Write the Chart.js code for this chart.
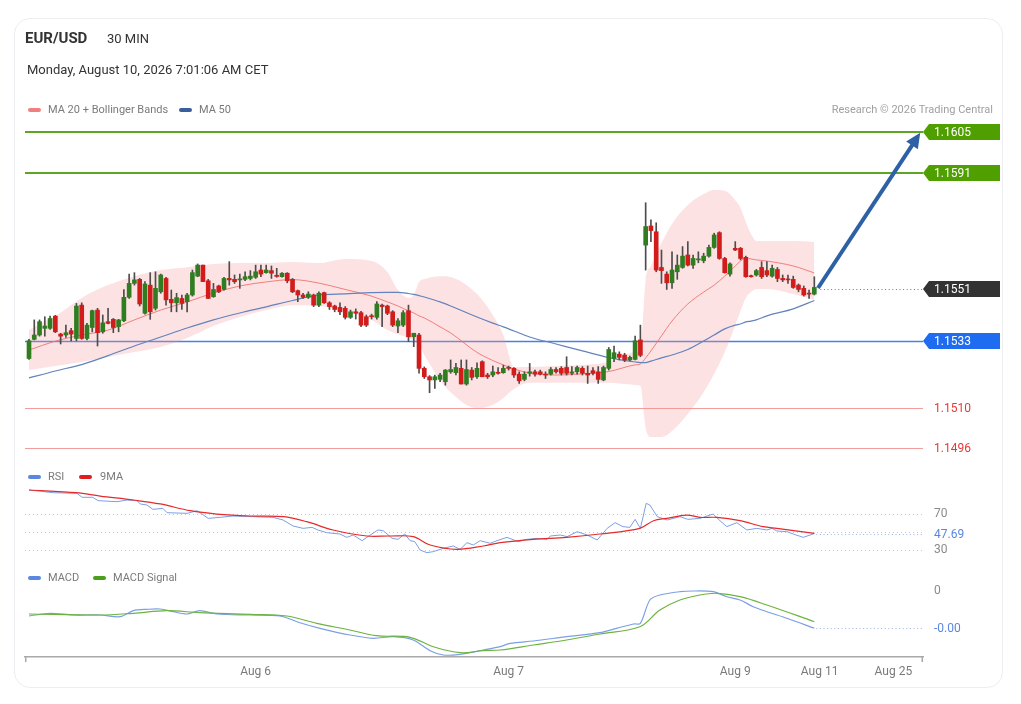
<!DOCTYPE html>
<html>
<head>
<meta charset="utf-8">
<script src="https://cdn.jsdelivr.net/npm/chart.js@4.4.1/dist/chart.umd.min.js"></script>
<style>
html,body{margin:0;padding:0;background:#fff;}
body{width:1021px;height:704px;position:relative;overflow:hidden;font-family:Roboto,"Liberation Sans",Arial,sans-serif;}
.card{position:absolute;left:14px;top:18px;width:989px;height:670px;border:1px solid #eceef1;border-radius:16px;box-sizing:border-box;}
.t{position:absolute;white-space:nowrap;line-height:1;}
.sw{position:absolute;width:13px;height:4px;border-radius:2px;display:block;}
canvas{position:absolute;left:0;top:0;}
</style>
</head>
<body>
<div class="card"></div>
<canvas id="chart" width="1021" height="704"></canvas>
<div class="t" style="left:25px;top:31px;font-size:15px;font-weight:700;color:#333">EUR/USD</div>
<div class="t" style="left:107px;top:32px;font-size:13px;color:#333">30 MIN</div>
<div class="t" style="left:27px;top:63px;font-size:13px;color:#333">Monday, August 10, 2026 7:01:06 AM CET</div>
<span class="sw" style="left:28px;top:108px;background:#f08080"></span>
<div class="t" style="left:48px;top:104px;font-size:11px;color:#7a7a7a">MA 20 + Bollinger Bands</div>
<span class="sw" style="left:179px;top:108px;background:#3b5f9e"></span>
<div class="t" style="left:199px;top:104px;font-size:11px;color:#7a7a7a">MA 50</div>
<div class="t" style="right:28px;top:104px;font-size:11px;color:#a0a0a0">Research © 2026 Trading Central</div>
<span class="sw" style="left:28px;top:475px;background:#5b87e0"></span>
<div class="t" style="left:48px;top:471px;font-size:11px;color:#7a7a7a">RSI</div>
<span class="sw" style="left:79px;top:475px;background:#e01e1e"></span>
<div class="t" style="left:100px;top:471px;font-size:11px;color:#7a7a7a">9MA</div>
<span class="sw" style="left:28px;top:576px;background:#5b87e0"></span>
<div class="t" style="left:48px;top:572px;font-size:11px;color:#7a7a7a">MACD</div>
<span class="sw" style="left:93px;top:576px;background:#4c9f1c"></span>
<div class="t" style="left:113px;top:572px;font-size:11px;color:#7a7a7a">MACD Signal</div>
<script>
// ---------- DATA ----------
const candleOpen = [
1.15269,1.15335,1.15350,1.15373,1.15373,1.15415,1.15353,1.15350,1.15365,1.15338,
1.15453,1.15338,1.15376,1.15436,1.15361,1.15396,1.15404,1.15379,1.15399,1.15480,
1.15528,1.15542,1.15425,1.15522,1.15442,1.15499,1.15545,1.15473,1.15461,1.15476,
1.15465,1.15488,1.15553,1.15591,1.15537,1.15482,1.15519,1.15507,1.15545,1.15542,
1.15540,1.15542,1.15545,1.15549,1.15574,1.15565,1.15572,1.15556,1.15551,1.15563,
1.15542,1.15503,1.15488,1.15480,1.15488,1.15453,1.15496,1.15461,1.15450,1.15445,
1.15442,1.15411,1.15430,1.15427,1.15413,1.15415,1.15411,1.15453,1.15450,1.15430,
1.15381,1.15384,1.15434,1.15344,1.15350,1.15235,1.15206,1.15195,1.15197,1.15189,
1.15223,1.15220,1.15235,1.15181,1.15229,1.15206,1.15258,1.15212,1.15212,1.15221,
1.15220,1.15238,1.15235,1.15215,1.15197,1.15218,1.15223,1.15223,1.15215,1.15215,
1.15231,1.15235,1.15238,1.15218,1.15223,1.15235,1.15218,1.15227,1.15223,1.15195,
1.15235,1.15269,1.15284,1.15281,1.15264,1.15266,1.15333,1.15660,1.15726,1.15706,
1.15583,1.15560,1.15530,1.15568,1.15583,1.15626,1.15591,1.15609,1.15606,1.15622,
1.15652,1.15703,1.15614,1.15560,1.15649,1.15649,1.15618,1.15553,1.15557,1.15583,
1.15572,1.15553,1.15576,1.15545,1.15542,1.15542,1.15522,1.15511,1.15494,1.15491];
const candleHigh = [
1.15335,1.15402,1.15402,1.15413,1.15415,1.15418,1.15356,1.15384,1.15373,1.15459,
1.15461,1.15390,1.15436,1.15442,1.15419,1.15442,1.15407,1.15404,1.15507,1.15560,
1.15565,1.15545,1.15534,1.15565,1.15568,1.15560,1.15549,1.15505,1.15494,1.15488,
1.15494,1.15574,1.15595,1.15591,1.15542,1.15528,1.15522,1.15549,1.15603,1.15557,
1.15560,1.15568,1.15572,1.15591,1.15591,1.15591,1.15588,1.15580,1.15565,1.15565,
1.15545,1.15505,1.15494,1.15499,1.15491,1.15499,1.15498,1.15465,1.15453,1.15461,
1.15448,1.15436,1.15440,1.15432,1.15419,1.15422,1.15465,1.15457,1.15453,1.15434,
1.15407,1.15434,1.15453,1.15356,1.15356,1.15240,1.15210,1.15212,1.15218,1.15231,
1.15264,1.15252,1.15264,1.15264,1.15238,1.15254,1.15261,1.15218,1.15243,1.15238,
1.15246,1.15243,1.15238,1.15223,1.15223,1.15252,1.15229,1.15229,1.15223,1.15238,
1.15238,1.15241,1.15275,1.15241,1.15243,1.15241,1.15243,1.15238,1.15241,1.15243,
1.15307,1.15312,1.15292,1.15287,1.15277,1.15346,1.15384,1.15806,1.15747,1.15737,
1.15643,1.15568,1.15637,1.15626,1.15655,1.15672,1.15626,1.15637,1.15632,1.15660,
1.15701,1.15706,1.15618,1.15599,1.15672,1.15652,1.15622,1.15557,1.15576,1.15603,
1.15603,1.15591,1.15583,1.15557,1.15557,1.15553,1.15526,1.15519,1.15505,1.15551];
const candleLow = [
1.15266,1.15333,1.15346,1.15346,1.15369,1.15358,1.15319,1.15342,1.15330,1.15330,
1.15335,1.15333,1.15361,1.15312,1.15356,1.15388,1.15358,1.15361,1.15396,1.15476,
1.15522,1.15450,1.15422,1.15404,1.15436,1.15494,1.15453,1.15430,1.15430,1.15438,
1.15430,1.15484,1.15551,1.15534,1.15476,1.15480,1.15496,1.15505,1.15522,1.15528,
1.15511,1.15537,1.15540,1.15545,1.15551,1.15563,1.15545,1.15549,1.15549,1.15530,
1.15496,1.15465,1.15476,1.15476,1.15448,1.15448,1.15459,1.15438,1.15430,1.15420,
1.15405,1.15407,1.15405,1.15379,1.15379,1.15405,1.15405,1.15379,1.15420,1.15379,
1.15358,1.15379,1.15327,1.15310,1.15218,1.15200,1.15151,1.15166,1.15189,1.15177,
1.15218,1.15212,1.15181,1.15177,1.15195,1.15200,1.15206,1.15200,1.15206,1.15215,
1.15218,1.15229,1.15204,1.15183,1.15192,1.15208,1.15208,1.15212,1.15200,1.15212,
1.15218,1.15212,1.15212,1.15212,1.15215,1.15212,1.15183,1.15212,1.15183,1.15192,
1.15229,1.15258,1.15264,1.15258,1.15261,1.15264,1.15275,1.15574,1.15672,1.15568,
1.15528,1.15507,1.15511,1.15542,1.15580,1.15588,1.15580,1.15599,1.15599,1.15618,
1.15649,1.15611,1.15563,1.15553,1.15641,1.15609,1.15549,1.15549,1.15553,1.15545,
1.15551,1.15549,1.15534,1.15534,1.15528,1.15511,1.15499,1.15484,1.15476,1.15488];
const candleClose = [
1.15330,1.15350,1.15396,1.15381,1.15407,1.15361,1.15346,1.15358,1.15353,1.15450,
1.15338,1.15384,1.15434,1.15358,1.15392,1.15390,1.15376,1.15402,1.15480,1.15528,
1.15540,1.15457,1.15526,1.15430,1.15511,1.15557,1.15471,1.15461,1.15479,1.15459,
1.15488,1.15565,1.15591,1.15534,1.15476,1.15507,1.15499,1.15545,1.15540,1.15534,
1.15542,1.15551,1.15553,1.15568,1.15560,1.15574,1.15563,1.15552,1.15563,1.15537,
1.15499,1.15488,1.15480,1.15491,1.15453,1.15494,1.15461,1.15448,1.15438,1.15430,
1.15411,1.15430,1.15425,1.15384,1.15384,1.15413,1.15457,1.15448,1.15425,1.15384,
1.15399,1.15427,1.15344,1.15356,1.15235,1.15206,1.15195,1.15206,1.15212,1.15229,
1.15231,1.15238,1.15181,1.15231,1.15204,1.15235,1.15206,1.15206,1.15223,1.15218,
1.15235,1.15235,1.15212,1.15192,1.15215,1.15223,1.15215,1.15215,1.15212,1.15231,
1.15223,1.15218,1.15218,1.15223,1.15238,1.15218,1.15212,1.15218,1.15197,1.15238,
1.15300,1.15289,1.15273,1.15264,1.15273,1.15330,1.15280,1.15724,1.15710,1.15574,
1.15572,1.15530,1.15574,1.15591,1.15622,1.15591,1.15614,1.15611,1.15622,1.15652,
1.15695,1.15614,1.15565,1.15595,1.15643,1.15614,1.15551,1.15551,1.15572,1.15551,
1.15557,1.15580,1.15545,1.15540,1.15540,1.15514,1.15507,1.15488,1.15491,1.15514];

const bandIdx = [0,5,10,15,20,25,30,35,40,45,50,55,60,65,68,70,72,73,74,75,78,80,85,88,90,92,95,100,105,110,115,116,117,118,120,122,125,128,130,132,134,135,136,137,138,140,145,149];
const bbUpper = [1.15367,1.15416,1.15478,1.15522,1.15553,1.15574,1.15584,1.15595,1.15598,1.15598,
1.15602,1.15598,1.15612,1.15605,1.15567,1.15505,1.15478,1.15488,1.15533,1.15543,
1.15553,1.15550,1.15491,1.15419,1.15350,1.15240,1.15240,1.15243,1.15247,1.15257,
1.15291,1.15298,1.15540,1.15588,1.15667,1.15733,1.15798,1.15836,1.15850,1.15847,
1.15815,1.15788,1.15740,1.15698,1.15674,1.15674,1.15674,1.15671];
const bbLower = [1.15229,1.15243,1.15257,1.15274,1.15291,1.15309,1.15340,1.15381,1.15412,1.15436,
1.15453,1.15450,1.15433,1.15402,1.15367,1.15353,1.15340,1.15330,1.15316,1.15281,
1.15195,1.15153,1.15098,1.15109,1.15133,1.15164,1.15185,1.15185,1.15185,1.15185,
1.15178,1.15174,1.15029,1.14998,1.14998,1.15019,1.15078,1.15153,1.15216,1.15291,
1.15384,1.15433,1.15478,1.15498,1.15509,1.15509,1.15491,1.15471];
const ma20 = [1.15298,1.15329,1.15350,1.15367,1.15402,1.15436,1.15464,1.15495,1.15519,1.15533,
1.15541,1.15529,1.15507,1.15484,1.15464,1.15450,1.15433,1.15426,1.15416,1.15409,
1.15378,1.15357,1.15290,1.15262,1.15247,1.15233,1.15219,1.15212,1.15216,1.15224,
1.15247,1.15250,1.15271,1.15295,1.15347,1.15398,1.15457,1.15498,1.15522,1.15553,
1.15588,1.15605,1.15616,1.15612,1.15609,1.15605,1.15588,1.15564];
const ma50 = [1.15202,1.15226,1.15248,1.15279,1.15312,1.15343,1.15374,1.15402,1.15426,1.15447,
1.15469,1.15488,1.15492,1.15496,1.15497,1.15497,1.15493,1.15490,1.15486,1.15481,
1.15464,1.15450,1.15412,1.15391,1.15378,1.15364,1.15343,1.15319,1.15295,1.15272,
1.15257,1.15255,1.15255,1.15260,1.15271,1.15281,1.15300,1.15329,1.15350,1.15371,
1.15384,1.15388,1.15395,1.15398,1.15402,1.15416,1.15440,1.15469];

const rsiIdx = [0,4.6,9.1,10.1,12.1,13.1,16.7,18.6,20.5,21.1,22.4,23.5,25.4,26.2,30,31.9,34,36.2,38.7,42.5,46.3,48.2,50.1,52,53.7,54.8,56.5,59,60.3,61.5,63.2,64.3,66.2,67.2,68.9,70,71.3,72.3,73.2,74.2,75.5,76.7,78.6,80.5,81.8,83.1,84.3,85.6,87.5,88.8,90.7,92.8,94.5,96.4,98.3,98.9,100.8,102.1,104,105.9,107.8,109.7,111.2,112.7,114,115,116,117.1,117.8,119.2,121.1,123.5,125,127.3,129.8,131.1,132.4,134.3,136.2,138.1,140,141,141.9,143.8,145,146.9,149];
const rsiVal = [96.1,93.1,92.4,88,88,84.3,83.1,85,84.3,80.6,79.4,74.6,75.7,70.9,70.2,73.1,64.6,65.7,67.2,66.5,65.7,62.8,56.1,53.5,54.6,51.7,48.7,47.2,43.5,46.1,39.8,44.3,51.7,50.9,42.4,41.3,47.2,39.8,38.7,29.4,26.5,27.6,31.3,33.9,30.2,37.6,35,39.8,36.9,39.8,43.5,38.7,41.3,42.4,41.3,45,46.1,44.3,49.8,46.1,40.6,53.5,59.8,55.4,54.6,63.5,53.5,81.3,79.4,66.5,62.8,66.5,63.5,64.6,69.4,62,55.4,59.8,51.7,53.5,51.7,53.5,50.6,49.8,47.2,43.5,47.69];
const ma9Idx = [0,9,13.5,19.8,24.9,30.6,35.6,41.9,48.3,52.7,57.7,64.1,68.5,72.9,76.1,81.2,86.2,89.4,95.7,102,108.3,115.9,118.5,121,124.8,127.3,130.5,134.9,139.3,141.9,149];
const ma9Val = [96.1,93.1,89.4,85,80.6,73.1,69.4,67.2,66.5,60.9,51.7,45,45,44.3,35,30.2,33.9,37.6,41.3,43.5,47.2,53.5,62,64.6,68.3,65.7,65.7,62,55.4,53.5,48];
const rsiGrid = [70,50,30];
const rsiTicks = [70,30];

const macdIdx = [0,4,8.4,13.5,17.3,19.8,22.4,24.9,27.4,29.9,32.4,35.6,42,47.6,51.4,55.2,60.9,65.3,69.1,72.9,76.1,78.6,81.8,86.2,89.4,91.3,95.7,102,108.3,111.5,114.7,116,117.8,119.7,123.5,126,129.8,132.4,134.9,137.4,140,143.8,149];
const macdVal = [-0.00026,-0.000233,-0.00025,-0.00025,-0.000267,-0.000207,-0.000193,-0.00019,-0.000217,-0.00024,-0.000207,-0.00024,-0.00025,-0.00026,-0.000327,-0.000383,-0.00045,-0.000483,-0.000467,-0.0005,-0.000607,-0.00065,-0.000643,-0.0006,-0.000567,-0.000533,-0.00051,-0.000467,-0.000427,-0.000383,-0.00034,-0.000333,-0.0001,-0.00005,-0.000017,-0.00001,-0.000017,-0.000067,-0.0001,-0.000167,-0.000217,-0.000283,-0.000383];
const sigIdx = [0,13.5,19.8,26.1,32.4,42,48.9,54.6,60.9,65.9,72.3,76.7,81.8,86.2,89.4,95.7,102,108.3,115.9,119.7,123.5,127.3,130.5,134.9,140,149];
const sigVal = [-0.00024,-0.00025,-0.000233,-0.000207,-0.000227,-0.000243,-0.00026,-0.000333,-0.0004,-0.000457,-0.000473,-0.000567,-0.000627,-0.000607,-0.0006,-0.00055,-0.0005,-0.00044,-0.000367,-0.0002,-0.0001,-0.00005,-0.000033,-0.000067,-0.00015,-0.000317];
const macdTicks = [0];

const levelVals = [1.1605, 1.1591, 1.1551, 1.1533, 1.1510, 1.1496];
const tickIdx = [43, 91, 134, 150, 164];
const tickLabels = ['Aug 6', 'Aug 7', 'Aug 9', 'Aug 11', 'Aug 25'];
const arrowFrom = [149.7, 1.15512];
const arrowTo = [169.1, 1.16047];

// ---------- STYLE ----------
const FONT = 'Roboto, "Liberation Sans", Arial, sans-serif';
const GREEN = '#2f7d20', RED = '#d21b1b';
const levelStyle = [
  {line:'#5ea524', width:2, tag:'#4f9f00'},
  {line:'#5ea524', width:2, tag:'#4f9f00'},
  {line:'dots', tag:'#333333'},
  {line:'#4a80e6', width:1.5, tag:'#1f6cf0'},
  {line:'#f29c9c', width:1, text:'#e53935'},
  {line:'#f29c9c', width:1, text:'#e53935'}
];
const snap = (y, w) => (Math.round(w) % 2 === 1 || w < 2) ? Math.round(y) + 0.5 : Math.round(y);

const zip = (xs, ys) => xs.map((x, k) => ({x: x, y: ys[k]}));
const idxs = candleOpen.map((_, i) => i);

const overlay = {
  id: 'overlay',
  beforeDatasetsDraw(chart) {
    const {ctx, chartArea: a} = chart;
    const yP = chart.scales.yP, yR = chart.scales.yR;
    ctx.save();
    ctx.lineWidth = 1;
    ctx.strokeStyle = '#c6c6c6';
    ctx.setLineDash([1, 3]);
    rsiGrid.forEach(v => {
      const y = snap(yR.getPixelForValue(v), 1);
      ctx.beginPath(); ctx.moveTo(a.left, y); ctx.lineTo(a.right, y); ctx.stroke();
    });
    ctx.setLineDash([]);
    levelVals.forEach((v, k) => {
      const st = levelStyle[k];
      if (st.line === 'dots') return;
      const y = snap(yP.getPixelForValue(v), st.width);
      ctx.strokeStyle = st.line; ctx.lineWidth = st.width;
      ctx.beginPath(); ctx.moveTo(a.left, y); ctx.lineTo(a.right, y); ctx.stroke();
    });
    ctx.restore();
  },
  afterDatasetsDraw(chart) {
    const {ctx, chartArea: a} = chart;
    const xs = chart.scales.x, yP = chart.scales.yP, yR = chart.scales.yR, yM = chart.scales.yM;
    const lastI = candleClose.length - 1;
    ctx.save();
    ctx.lineWidth = 1;
    ctx.setLineDash([1, 2.6]);
    ctx.strokeStyle = '#777';
    let y = snap(yP.getPixelForValue(levelVals[2]), 1);
    ctx.beginPath(); ctx.moveTo(xs.getPixelForValue(lastI) + 6, y); ctx.lineTo(a.right, y); ctx.stroke();
    ctx.strokeStyle = '#9db3e4';
    const rl = rsiIdx.length - 1;
    y = snap(yR.getPixelForValue(rsiVal[rl]), 1);
    ctx.beginPath(); ctx.moveTo(xs.getPixelForValue(rsiIdx[rl]) + 2, y); ctx.lineTo(a.right, y); ctx.stroke();
    const ml = macdIdx.length - 1;
    y = snap(yM.getPixelForValue(macdVal[ml]), 1);
    ctx.beginPath(); ctx.moveTo(xs.getPixelForValue(macdIdx[ml]) + 2, y); ctx.lineTo(a.right, y); ctx.stroke();
    ctx.setLineDash([]);

    // arrow
    const x1 = xs.getPixelForValue(arrowFrom[0]), y1 = yP.getPixelForValue(arrowFrom[1]);
    const x2 = xs.getPixelForValue(arrowTo[0]), y2 = yP.getPixelForValue(arrowTo[1]);
    const ang = Math.atan2(y2 - y1, x2 - x1), hl = 15, hw = 7;
    const bx = x2 - hl * Math.cos(ang), by = y2 - hl * Math.sin(ang);
    ctx.strokeStyle = '#2e60a6'; ctx.fillStyle = '#2e60a6'; ctx.lineWidth = 4;
    ctx.beginPath(); ctx.moveTo(x1, y1); ctx.lineTo(bx + Math.cos(ang), by + Math.sin(ang)); ctx.stroke();
    ctx.beginPath(); ctx.moveTo(x2, y2);
    ctx.lineTo(bx + hw * Math.sin(ang), by - hw * Math.cos(ang));
    ctx.lineTo(bx - hw * Math.sin(ang), by + hw * Math.cos(ang));
    ctx.closePath(); ctx.fill();

    // level tags / labels
    ctx.font = '12px ' + FONT;
    ctx.textBaseline = 'middle';
    ctx.textAlign = 'left';
    const tx = a.right + 11;
    levelVals.forEach((v, k) => {
      const st = levelStyle[k];
      const yy = Math.round(yP.getPixelForValue(v));
      if (st.tag) {
        ctx.fillStyle = st.tag;
        ctx.beginPath();
        ctx.moveTo(a.right, yy);
        ctx.lineTo(a.right + 6, yy - 8);
        ctx.lineTo(a.right + 77, yy - 8);
        ctx.lineTo(a.right + 77, yy + 8);
        ctx.lineTo(a.right + 6, yy + 8);
        ctx.closePath(); ctx.fill();
        ctx.fillStyle = '#ffffff';
      } else {
        ctx.fillStyle = st.text;
      }
      ctx.fillText(v.toFixed(4), tx, yy + 0.5);
    });
    ctx.fillStyle = '#8a8a8a';
    rsiTicks.forEach(v => ctx.fillText(String(v), tx, yR.getPixelForValue(v) + 0.5));
    ctx.fillStyle = '#5b87e0';
    ctx.fillText(rsiVal[rl].toFixed(2), tx, yR.getPixelForValue(rsiVal[rl]) + 1);
    ctx.fillStyle = '#8a8a8a';
    macdTicks.forEach(v => ctx.fillText(String(v), tx, yM.getPixelForValue(v) + 0.5));
    ctx.fillStyle = '#5b87e0';
    ctx.fillText(macdVal[ml].toFixed(2), tx, yM.getPixelForValue(macdVal[ml]) + 0.5);
    ctx.restore();
  },
  afterDraw(chart) {
    const {ctx, chartArea: a} = chart;
    ctx.save();
    ctx.strokeStyle = '#a9a9a9'; ctx.lineWidth = 1.5;
    [a.left + 0.75, a.right - 0.75].forEach(x => {
      ctx.beginPath(); ctx.moveTo(x, a.bottom); ctx.lineTo(x, a.bottom + 5); ctx.stroke();
    });
    ctx.restore();
  }
};

Chart.defaults.font.family = FONT;

new Chart(document.getElementById('chart'), {
  type: 'line',
  data: {
    datasets: [
      {type:'line', data: zip(bandIdx, bbUpper), yAxisID:'yP', borderColor:'rgba(0,0,0,0)', borderWidth:1, pointRadius:0,
       fill:'+1', backgroundColor:'rgba(246,150,150,0.28)', cubicInterpolationMode:'monotone', order:20},
      {type:'line', data: zip(bandIdx, bbLower), yAxisID:'yP', borderColor:'rgba(0,0,0,0)', borderWidth:1, pointRadius:0,
       fill:false, cubicInterpolationMode:'monotone', order:19},
      {type:'line', data: zip(bandIdx, ma20), yAxisID:'yP', borderColor:'rgba(240,115,115,0.9)', borderWidth:1, pointRadius:0,
       fill:false, cubicInterpolationMode:'monotone', order:15},
      {type:'line', data: zip(bandIdx, ma50), yAxisID:'yP', borderColor:'#6383bd', borderWidth:1.2, pointRadius:0,
       fill:false, cubicInterpolationMode:'monotone', order:14},
      {type:'bar', data: idxs.map(i => ({x:i, y:[candleLow[i], candleHigh[i]]})), yAxisID:'yP',
       backgroundColor:'#4d4d4d', barThickness:1, grouped:false, order:6},
      {type:'bar', data: idxs.map(i => ({x:i, y:[candleOpen[i], candleClose[i]]})), yAxisID:'yP',
       backgroundColor: idxs.map(i => candleClose[i] >= candleOpen[i] ? GREEN : RED),
       barThickness:4, minBarLength:1, grouped:false, order:5},
      {type:'line', data: zip(rsiIdx, rsiVal), yAxisID:'yR', borderColor:'#7b9fe6', borderWidth:1, pointRadius:0, fill:false, tension:0, order:4},
      {type:'line', data: zip(ma9Idx, ma9Val), yAxisID:'yR', borderColor:'#e42a2a', borderWidth:1.2, pointRadius:0, fill:false, tension:0.35, order:3},
      {type:'line', data: zip(macdIdx, macdVal), yAxisID:'yM', borderColor:'#7b9fe6', borderWidth:1.2, pointRadius:0, fill:false, tension:0.3, order:2},
      {type:'line', data: zip(sigIdx, sigVal), yAxisID:'yM', borderColor:'#6db33f', borderWidth:1.2, pointRadius:0, fill:false, tension:0.35, order:1}
    ]
  },
  options: {
    responsive: false,
    maintainAspectRatio: false,
    animation: false,
    events: [],
    layout: { padding: { left: 25, right: 98, top: 117, bottom: 17 } },
    plugins: { legend: { display: false }, tooltip: { enabled: false } },
    scales: {
      x: {
        type: 'linear', min: -0.759, max: 169.62, offset: false, bounds: 'data',
        grid: { display: false, drawTicks: false },
        border: { display: true, color: '#a9a9a9', width: 1.5 },
        afterBuildTicks: s => { s.ticks = tickIdx.map(v => ({ value: v })); },
        afterFit: s => { s.height = 30; },
        ticks: { autoSkip: false, maxRotation: 0, minRotation: 0, padding: 8, color: '#7a7a7a',
                 font: { size: 12 }, callback: v => { const k = tickIdx.indexOf(v); return k >= 0 ? tickLabels[k] : ''; } }
      },
      yP: { type: 'linear', display: false, min: 1.1423966, max: 1.1610172, beginAtZero: false },
      yR: { type: 'linear', display: false, min: -89.44, max: 510.56, beginAtZero: false },
      yM: { type: 'linear', display: false, min: -0.00067, max: 0.00473, beginAtZero: false }
    }
  },
  plugins: [overlay]
});
</script>
</body>
</html>
